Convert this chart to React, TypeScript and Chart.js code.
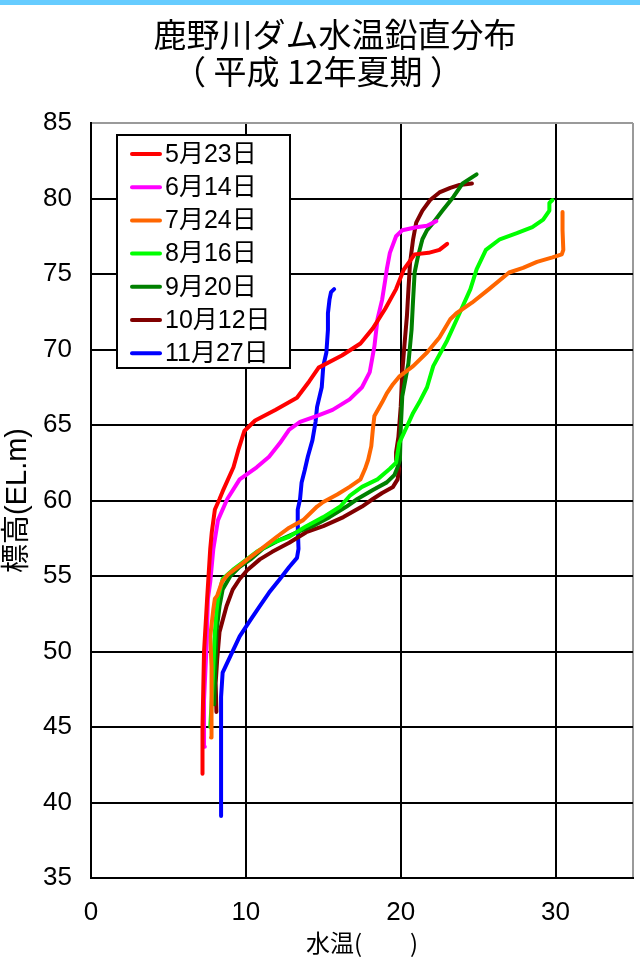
import React, { useEffect, useRef } from 'react';
import { Chart, registerables } from 'chart.js';

Chart.register(...registerables);

// Titles and labels
const titleLines = ['鹿野川ダム水温鉛直分布', '（ 平成 12年夏期 ）'];
const xAxisTitle = '水温(　　)';
const yAxisTitle = '標高(EL.m)';

// Axis ticks
const xTickValues = [0, 10, 20, 30, 35];
const yTickValues = [35, 40, 45, 50, 55, 60, 65, 70, 75, 80, 85];

// Survey dates and line colours
const seriesLabels = ['5月23日', '6月14日', '7月24日', '8月16日', '9月20日', '10月12日', '11月27日'];
const seriesColors = ['#ff0000', '#ff00ff', '#ff6600', '#00ff00', '#008000', '#800000', '#0000ff'];

// Profiles: [water temperature (°C), elevation (EL.m)]
const may23: [number, number][] = [
  [7.2, 41.9], [7.2, 45.0], [7.25, 47.5], [7.3, 50.0], [7.5, 53.5], [7.7, 56.8], [7.8, 57.9],
  [8.0, 59.4], [8.3, 60.1], [8.5, 60.6], [9.2, 62.2], [9.5, 63.3], [9.9, 64.6], [10.6, 65.3],
  [11.9, 66.0], [13.3, 66.8], [14.1, 67.9], [14.7, 68.8], [16.2, 69.6], [17.4, 70.4],
  [18.2, 71.4], [19.0, 72.7], [19.7, 74.0], [20.2, 75.3], [20.9, 76.3], [21.8, 76.4],
  [22.5, 76.6], [23.0, 77.0],
];
const jun14: [number, number][] = [
  [7.35, 43.7], [7.3, 46.8], [7.45, 50.1], [7.55, 53.5], [7.7, 54.6], [7.9, 56.8], [8.2, 58.7],
  [8.8, 60.1], [9.6, 61.4], [10.7, 62.2], [11.5, 62.9], [12.2, 63.8], [12.8, 64.7], [13.5, 65.2],
  [14.6, 65.6], [15.6, 66.0], [16.7, 66.7], [17.5, 67.5], [18.0, 68.5], [18.3, 70.2],
  [18.5, 72.0], [18.8, 73.3], [19.0, 74.6], [19.1, 75.3], [19.3, 76.4], [19.7, 77.5],
  [20.1, 77.9], [21.0, 78.1], [21.7, 78.2], [22.3, 78.5],
];
const jul24: [number, number][] = [
  [7.75, 44.3], [7.75, 45.3], [7.8, 47.0], [7.8, 49.0], [7.7, 51.0], [7.8, 51.9], [7.9, 52.8],
  [8.0, 53.5], [8.15, 53.7], [8.45, 54.6], [8.85, 55.1], [9.5, 55.6], [10.1, 56.1], [11.0, 56.8],
  [12.0, 57.6], [12.8, 58.2], [13.7, 58.7], [14.6, 59.6], [15.0, 59.9], [15.9, 60.4],
  [16.7, 60.9], [17.4, 61.4], [17.7, 62.1], [17.9, 62.7], [18.1, 63.6], [18.2, 64.7],
  [18.3, 65.6], [18.8, 66.5], [19.1, 67.1], [19.5, 67.7], [19.9, 68.2], [20.8, 68.9],
  [21.7, 69.8], [22.5, 70.8], [23.2, 72.0], [23.6, 72.4], [24.6, 73.1], [25.7, 74.0],
  [27.0, 75.1], [27.9, 75.4], [28.8, 75.8], [29.8, 76.1], [30.4, 76.3], [30.5, 76.6],
  [30.45, 77.9], [30.45, 79.1],
];
const aug16: [number, number][] = [
  [7.7, 45.0], [7.8, 46.8], [7.9, 49.0], [8.0, 51.3], [8.1, 52.6], [8.2, 53.5], [8.5, 54.8],
  [9.15, 55.4], [9.8, 55.9], [10.7, 56.6], [11.7, 57.2], [12.8, 57.6], [13.9, 58.3],
  [15.0, 58.9], [16.1, 59.6], [16.7, 60.3], [17.5, 60.9], [18.5, 61.4], [19.3, 62.1],
  [19.7, 62.5], [19.9, 63.8], [20.4, 64.9], [20.8, 65.8], [21.2, 66.5], [21.7, 67.5],
  [22.1, 68.9], [23.0, 70.6], [23.8, 72.4], [24.5, 74.0], [24.9, 75.3], [25.5, 76.6],
  [26.4, 77.3], [27.5, 77.7], [28.5, 78.1], [29.2, 78.6], [29.6, 79.2], [29.6, 79.7],
  [29.8, 79.9],
];
const sep20: [number, number][] = [
  [7.95, 46.5], [8.1, 51.3], [8.3, 53.0], [8.5, 54.1], [9.0, 55.0], [9.6, 55.6], [10.3, 56.1],
  [11.1, 56.8], [12.2, 57.4], [13.3, 57.9], [14.3, 58.3], [15.4, 58.9], [16.5, 59.6],
  [17.2, 60.1], [18.2, 60.7], [19.1, 61.2], [19.6, 61.7], [19.8, 62.2], [19.95, 62.7],
  [20.0, 64.7], [20.1, 66.9], [20.5, 69.1], [20.7, 71.3], [20.8, 73.3], [20.9, 75.1],
  [21.1, 76.1], [21.4, 77.3], [21.7, 77.9], [22.1, 78.4], [22.7, 79.2], [23.4, 80.1],
  [24.0, 81.0], [24.6, 81.4], [24.9, 81.6],
];
const oct12: [number, number][] = [
  [8.1, 46.0], [8.05, 47.9], [8.15, 49.5], [8.3, 51.3], [8.75, 53.0], [9.15, 54.1], [9.6, 54.8],
  [10.1, 55.4], [10.9, 56.1], [11.7, 56.6], [12.8, 57.2], [13.9, 57.9], [15.0, 58.3],
  [16.3, 58.9], [17.5, 59.6], [18.2, 60.1], [18.8, 60.5], [19.5, 60.9], [19.8, 61.4],
  [19.9, 62.1], [19.75, 62.7], [19.7, 63.2], [19.85, 64.2], [20.0, 66.2], [20.1, 68.5],
  [20.25, 70.4], [20.4, 72.2], [20.5, 74.0], [20.6, 75.7], [20.8, 77.3], [21.0, 78.4],
  [21.4, 79.2], [21.9, 79.9], [22.5, 80.4], [23.2, 80.7], [23.8, 80.9], [24.6, 81.0],
];
const nov27: [number, number][] = [
  [8.4, 39.1], [8.4, 44.0], [8.4, 47.0], [8.5, 48.6], [9.0, 49.7], [9.6, 51.0], [10.3, 52.1],
  [10.9, 53.0], [11.5, 53.9], [12.2, 54.8], [12.8, 55.6], [13.3, 56.2], [13.4, 56.8],
  [13.35, 58.3], [13.35, 59.4], [13.5, 60.1], [13.6, 61.2], [13.8, 62.0], [14.0, 62.9],
  [14.3, 64.0], [14.5, 65.2], [14.6, 66.2], [14.9, 67.5], [15.0, 68.9], [15.2, 69.8],
  [15.3, 71.3], [15.3, 72.4], [15.4, 73.3], [15.5, 73.8], [15.7, 74.0],
];

const profiles = [may23, jun14, jul24, aug16, sep20, oct12, nov27];

const tickFont = "'Liberation Sans Narrow', 'Liberation Sans', Arial, sans-serif";
const textFont = "'Liberation Sans', 'Noto Sans CJK JP', sans-serif";
const cjkFont = "'Noto Sans CJK JP', 'Liberation Sans', sans-serif";

// Page background, top band, two-line title and the boxed legend
const decorPlugin = {
  id: 'decor',
  beforeDraw(chart: any) {
    const { ctx, width, height } = chart;
    ctx.save();
    ctx.fillStyle = '#ffffff';
    ctx.fillRect(0, 0, width, height);
    ctx.fillStyle = '#66ccff';
    ctx.fillRect(0, 0, width, 5);
    ctx.restore();
  },
  afterDraw(chart: any) {
    const { ctx, chartArea } = chart;
    ctx.save();
    ctx.fillStyle = '#000000';
    ctx.textAlign = 'center';
    ctx.textBaseline = 'middle';
    ctx.font = `33px ${cjkFont}`;
    ctx.fillText(titleLines[0], 335, 34);
    ctx.fillText(titleLines[1], 318, 71);

    // legend
    const boxX = chartArea.left + 26;
    const boxY = chartArea.top + 12;
    const boxW = 173;
    const boxH = 233;
    ctx.fillStyle = '#ffffff';
    ctx.fillRect(boxX, boxY, boxW, boxH);
    ctx.strokeStyle = '#000000';
    ctx.lineWidth = 2;
    ctx.strokeRect(boxX, boxY, boxW, boxH);
    ctx.font = `25px ${textFont}`;
    ctx.textAlign = 'left';
    ctx.lineCap = 'round';
    chart.data.datasets.forEach((ds: any, i: number) => {
      const y = boxY + 19 + i * 33.2;
      ctx.strokeStyle = ds.borderColor;
      ctx.lineWidth = 4;
      ctx.beginPath();
      ctx.moveTo(boxX + 15, y);
      ctx.lineTo(boxX + 43, y);
      ctx.stroke();
      ctx.fillStyle = '#000000';
      ctx.fillText(ds.label, boxX + 48, y + 1);
    });
    ctx.restore();
  },
};

export default function App() {
  const canvasRef = useRef<HTMLCanvasElement | null>(null);

  useEffect(() => {
    const canvas = canvasRef.current;
    if (!canvas) return;
    const chart = new Chart(canvas, {
      type: 'scatter',
      data: {
        datasets: profiles.map((pts, i) => ({
          label: seriesLabels[i],
          data: pts.map(([t, e]) => ({ x: t, y: e })),
          showLine: true,
          borderColor: seriesColors[i],
          backgroundColor: seriesColors[i],
          borderWidth: 4,
          pointRadius: 0,
          tension: 0,
          borderJoinStyle: 'round' as const,
          borderCapStyle: 'round' as const,
        })),
      },
      options: {
        animation: false,
        responsive: false,
        maintainAspectRatio: false,
        layout: { padding: { top: 123, right: 7, bottom: 0, left: 0 } },
        plugins: {
          legend: { display: false },
          title: { display: false },
          tooltip: { enabled: false },
        },
        scales: {
          x: {
            type: 'linear',
            min: 0,
            max: 35,
            afterBuildTicks: (scale: any) => {
              scale.ticks = xTickValues.map((v) => ({ value: v }));
            },
            afterFit: (scale: any) => {
              scale.height = 82;
              scale.paddingLeft = 0;
              scale.paddingRight = 0;
            },
            ticks: {
              color: '#000000',
              padding: 19,
              font: { family: tickFont, size: 26 },
              callback: (v: any) => (v === 35 ? '' : String(v)),
            },
            grid: {
              drawTicks: false,
              lineWidth: 2,
              color: (c: any) => (c.tick && c.tick.value === 35 ? '#9a9a9a' : '#000000'),
            },
            border: { display: true, color: '#000000', width: 2 },
            title: {
              display: true,
              text: xAxisTitle,
              color: '#000000',
              font: { family: cjkFont, size: 24 },
              padding: { top: 0, bottom: 3 },
            },
          },
          y: {
            type: 'linear',
            min: 35,
            max: 85,
            afterBuildTicks: (scale: any) => {
              scale.ticks = yTickValues.map((v) => ({ value: v }));
            },
            afterFit: (scale: any) => {
              scale.width = 91;
              scale.paddingTop = 0;
              scale.paddingBottom = 0;
            },
            ticks: {
              color: '#000000',
              padding: 19,
              font: { family: tickFont, size: 26 },
            },
            grid: {
              drawTicks: false,
              lineWidth: 2,
              color: (c: any) => (c.tick && c.tick.value === 85 ? '#9a9a9a' : '#000000'),
            },
            border: { display: true, color: '#000000', width: 2 },
            title: {
              display: true,
              text: yAxisTitle,
              color: '#000000',
              font: { family: textFont, size: 29 },
              padding: { top: 1, bottom: 0 },
            },
          },
        },
      },
      plugins: [decorPlugin],
    });
    return () => chart.destroy();
  }, []);

  return (
    <div style={{ position: 'absolute', left: 0, top: 0, width: 640, height: 960 }}>
      <canvas ref={canvasRef} width={640} height={960} style={{ display: 'block', width: 640, height: 960 }} />
    </div>
  );
}
